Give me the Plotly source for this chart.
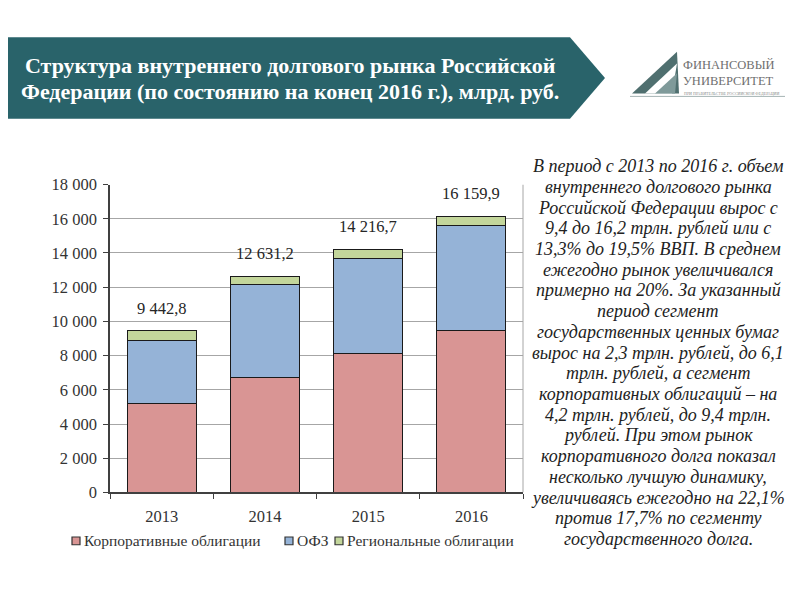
import plotly.graph_objects as go

years = ["2013", "2014", "2015", "2016"]
corporate = [5200, 6700, 8100, 9450]
ofz = [3700, 5450, 5600, 6140]
regional = [542.8, 481.2, 516.7, 569.9]
series_names = ["Корпоративные облигации", "ОФЗ", "Региональные облигации"]
colors = ["#d99594", "#95b3d7", "#c3d69b"]

title_lines = ["Структура внутреннего долгового рынка Российской",
               "Федерации (по состоянию на конец 2016 г.), млрд. руб."]
side_lines = [
    "В период с 2013 по 2016 г. объем",
    "внутреннего долгового рынка",
    "Российской Федерации вырос с",
    "9,4 до 16,2 трлн. рублей или с",
    "13,3% до 19,5% ВВП. В среднем",
    "ежегодно рынок увеличивался",
    "примерно на 20%. За указанный",
    "период сегмент",
    "государственных ценных бумаг",
    "вырос на 2,3 трлн. рублей, до 6,1",
    "трлн. рублей, а сегмент",
    "корпоративных облигаций – на",
    "4,2 трлн. рублей, до 9,4 трлн.",
    "рублей. При этом рынок",
    "корпоративного долга показал",
    "несколько лучшую динамику,",
    "увеличиваясь ежегодно на 22,1%",
    "против 17,7% по сегменту",
    "государственного долга.",
]

W, H = 800, 600
OFF = 8  # page body margin in the viewer


def px(x):
    return (x - OFF) / W


def py(y):
    return 1 - (y - OFF) / H


SERIF = "Liberation Serif"
TXT = "#333333"

fig = go.Figure()
for name, vals, col in zip(series_names, [corporate, ofz, regional], colors):
    fig.add_trace(go.Bar(
        x=years, y=vals, name=name, showlegend=False,
        marker=dict(color=col, line=dict(color="#1a1a1a", width=1)),
        hoverinfo="skip",
    ))

totals = [c + o + r for c, o, r in zip(corporate, ofz, regional)]


def fmt(v):
    return f"{v:,.1f}".replace(",", " ").replace(".", ",")


annotations = []
for i, t in enumerate(totals):
    annotations.append(dict(
        x=i, y=t, xref="x", yref="y", text=fmt(t), showarrow=False,
        yanchor="bottom", yshift=11, font=dict(family=SERIF, size=16.5, color="#262626"),
    ))

# title
for line, yy in zip(title_lines, [58, 85]):
    annotations.append(dict(
        x=px(290), y=py(yy), xref="paper", yref="paper", text=line,
        showarrow=False, xanchor="center", yanchor="middle",
        font=dict(family=SERIF, size=22, color="white", weight="bold"),
    ))

# side text, one annotation per line
y0, y1 = 162, 547
step = (y1 - y0) / (len(side_lines) - 1)
for k, line in enumerate(side_lines):
    annotations.append(dict(
        x=px(658), y=py(y0 + k * step), xref="paper", yref="paper",
        text="<i>" + line + "</i>",
        showarrow=False, xanchor="center", yanchor="middle",
        font=dict(family=SERIF, size=18, color="#222222"),
    ))

# manual legend
legend_sq = [72, 285, 335]
for name, col, sx in zip(series_names, colors, legend_sq):
    annotations.append(dict(
        x=px(sx + 10), y=py(549), xref="paper", yref="paper", text=name,
        showarrow=False, xanchor="left", yanchor="middle",
        font=dict(family=SERIF, size=15.5, color=TXT),
    ))

# logo text
annotations += [
    dict(x=px(681), y=py(58), xref="paper", yref="paper", text="ФИНАНСОВЫЙ",
         showarrow=False, xanchor="left", yanchor="middle",
         font=dict(family=SERIF, size=12.5, color="#6f6f6f")),
    dict(x=px(681), y=py(74), xref="paper", yref="paper", text="УНИВЕРСИТЕТ",
         showarrow=False, xanchor="left", yanchor="middle",
         font=dict(family=SERIF, size=12.5, color="#6f6f6f")),
    dict(x=px(682), y=py(87), xref="paper", yref="paper",
         text="ПРИ ПРАВИТЕЛЬСТВЕ РОССИЙСКОЙ ФЕДЕРАЦИИ",
         showarrow=False, xanchor="left", yanchor="middle",
         font=dict(family=SERIF, size=4, color="#8a8a8a")),
]


def path(points):
    return "M " + " L ".join(f"{px(x):.5f},{py(y):.5f}" for x, y in points) + " Z"


shapes = [
    # banner arrow
    dict(type="path", xref="paper", yref="paper",
         path=path([(0, 29), (570, 29), (605, 71), (570, 113), (0, 113)]),
         fillcolor="#29636a", line=dict(width=0), layer="below"),
    # logo sail
    dict(type="path", xref="paper", yref="paper",
         path=path([(632, 87), (677, 44), (679, 87)]),
         fillcolor="#4f6f6f", line=dict(width=0)),
    dict(type="path", xref="paper", yref="paper",
         path=path([(645, 87), (677, 56), (672, 87)]),
         fillcolor="#ffffff", line=dict(width=0)),
    dict(type="path", xref="paper", yref="paper",
         path=path([(655, 87), (677, 66), (675, 87)]),
         fillcolor="#7f9a9a", line=dict(width=0)),
    dict(type="line", xref="paper", yref="paper",
         x0=px(630), x1=px(785), y0=py(90), y1=py(90),
         line=dict(color="#a5b3b3", width=1)),
    # plot right border
    dict(type="line", xref="paper", yref="y", x0=px(523), x1=px(523), y0=0, y1=18000,
         line=dict(color="#a6a6a6", width=1)),
]
for col, sx in zip(colors, legend_sq):
    shapes.append(dict(type="rect", xref="paper", yref="paper",
                       x0=px(sx), x1=px(sx + 8), y0=py(553), y1=py(545),
                       fillcolor=col, line=dict(color="#333333", width=1.2)))

fig.update_layout(
    width=W, height=H,
    margin=dict(l=0, r=0, t=0, b=0),
    paper_bgcolor="white", plot_bgcolor="white",
    barmode="stack", bargap=0.33,
    separators=", ",
    font=dict(family=SERIF, size=14, color=TXT),
    showlegend=False,
    xaxis=dict(domain=[px(110), px(523)], type="category",
               showline=True, linecolor="#404040", linewidth=1.5,
               ticks="outside", tickson="boundaries", ticklen=5, tickcolor="#404040",
               ticklabelstandoff=8,
               tickfont=dict(family=SERIF, size=16.5, color=TXT),
               showgrid=False, fixedrange=True),
    yaxis=dict(domain=[py(499), py(181)], range=[0, 18000], dtick=2000,
               tickformat=",d",
               showline=True, linecolor="#404040", linewidth=1.5,
               ticks="outside", ticklen=5, tickcolor="#404040",
               ticklabelstandoff=3,
               showgrid=True, gridcolor="#a6a6a6", gridwidth=1,
               zeroline=False,
               tickfont=dict(family=SERIF, size=16.5, color=TXT),
               fixedrange=True),
    annotations=annotations,
    shapes=shapes,
)

fig.write_html("out.html")
